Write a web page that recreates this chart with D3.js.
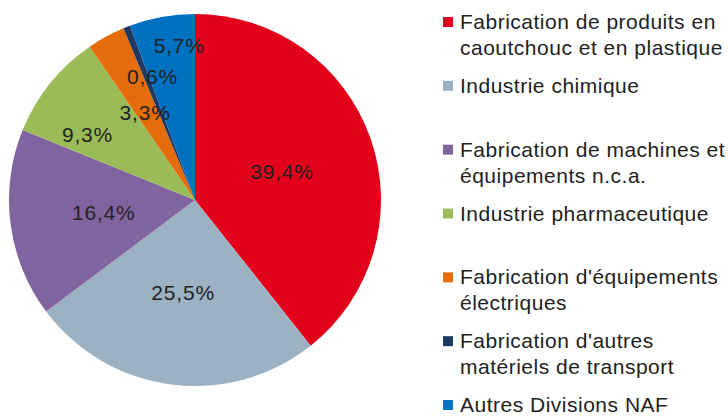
<!DOCTYPE html>
<html>
<head>
<meta charset="utf-8">
<script src="https://cdn.jsdelivr.net/npm/d3@7"></script>
<style>
  body { margin: 0; background: #fff; }
  text { font-family: "Liberation Sans", Arial, sans-serif; fill: #222; }
</style>
</head>
<body>
<div class="piechart"></div>
<script>
// data
var categories = [
  "Fabrication de produits en|caoutchouc et en plastique",
  "Industrie chimique",
  "Fabrication de machines et|équipements n.c.a.",
  "Industrie pharmaceutique",
  "Fabrication d'équipements|électriques",
  "Fabrication d'autres|matériels de transport",
  "Autres Divisions NAF"
];
var values = [39.4, 25.5, 16.4, 9.3, 3.3, 0.6, 5.7];
var valueLabels = ["39,4%", "25,5%", "16,4%", "9,3%", "3,3%", "0,6%", "5,7%"];
var colors = ["#e2001a", "#9cb1c2", "#8064a0", "#9bbb59", "#e46c0a", "#1f3864", "#0070c0"];

// where each label sits, as a share of the radius, plus a nudge (small slices pushed apart)
var labelRadius = [0.49, 0.5, 0.5, 0.68, 0.55, 0.71, 0.84];
var labelNudge = [[1, 2], [0, 0], [1, 1], [-9, 14], [-1, 2], [6, -1], [12, -1]];

var w = 728;
var h = 417;
var cx = 195, cy = 200, r = 186;

var svg = d3.select(".piechart")
            .append("svg")
            .attr("width", w)
            .attr("height", h);

var pie = d3.pie().sort(null).value(function(d) { return d; });
var arcs = pie(values);

var arc = d3.arc().innerRadius(0).outerRadius(r);

var g = svg.append("g").attr("transform", "translate(" + cx + "," + cy + ")");

g.selectAll("path")
  .data(arcs)
  .enter()
  .append("path")
  .attr("d", arc)
  .attr("fill", function(d, i) { return colors[i]; });

g.selectAll("text.val")
  .data(arcs)
  .enter()
  .append("text")
  .attr("class", "val")
  .attr("x", function(d, i) {
    var a = (d.startAngle + d.endAngle) / 2;
    return Math.sin(a) * r * labelRadius[i] + labelNudge[i][0];
  })
  .attr("y", function(d, i) {
    var a = (d.startAngle + d.endAngle) / 2;
    return -Math.cos(a) * r * labelRadius[i] + labelNudge[i][1];
  })
  .attr("dy", "0.35em")
  .attr("text-anchor", "middle")
  .style("font-size", "21px")
  .style("letter-spacing", "0.8px")
  .text(function(d, i) { return valueLabels[i]; });

// legend
var legendY = d3.scaleLinear().domain([0, categories.length - 1]).range([29, 412]);

var legend = svg.selectAll("g.leg")
  .data(categories)
  .enter()
  .append("g")
  .attr("class", "leg")
  .attr("transform", function(d, i) { return "translate(443," + legendY(i) + ")"; });

legend.append("rect")
  .attr("x", 0)
  .attr("y", -12)
  .attr("width", 10)
  .attr("height", 10)
  .attr("fill", function(d, i) { return colors[i]; });

legend.append("text")
  .attr("x", 17)
  .style("font-size", "21px")
  .style("letter-spacing", "0.5px")
  .selectAll("tspan")
  .data(function(d) { return d.split("|"); })
  .enter()
  .append("tspan")
  .attr("x", 17)
  .attr("dy", function(d, i) { return i === 0 ? 0 : 26; })
  .text(function(d) { return d; });
</script>
</body>
</html>
